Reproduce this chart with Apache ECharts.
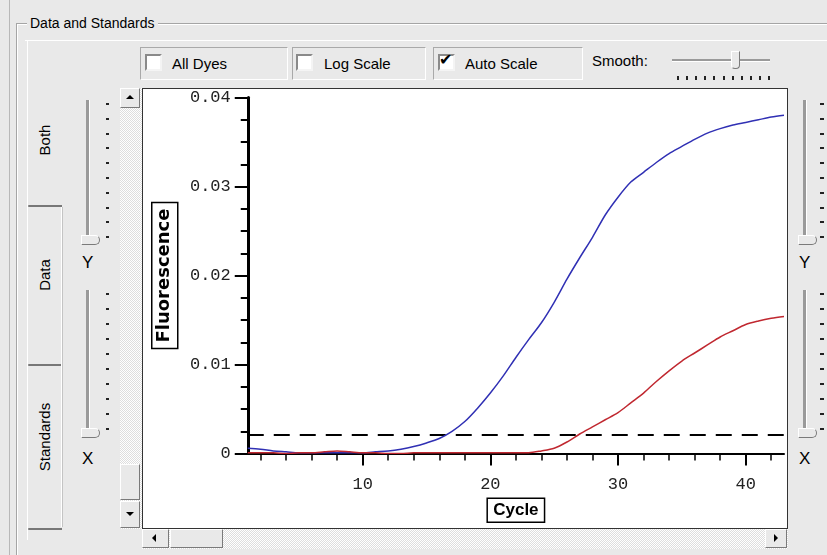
<!DOCTYPE html>
<html>
<head>
<meta charset="utf-8">
<script src="https://cdn.jsdelivr.net/npm/echarts@6/dist/echarts.min.js"></script>
<style>
  body {
    margin: 0;
    width: 827px;
    height: 555px;
    background: #e9e9e9;
    font-family: "Liberation Sans", Arial, sans-serif;
    font-size: 14px;
    color: #000;
    overflow: hidden;
    position: relative;
  }
  .abs { position: absolute; box-sizing: border-box; }
  .raised {
    background: #e9e9e9;
    border: 1px solid;
    border-color: #ffffff #7a7a7a #7a7a7a #ffffff;
  }
  .track {
    background-color: #f2f2f2;
    background-image: repeating-conic-gradient(#ffffff 0 25%, #dedede 0 50%);
    background-size: 2px 2px;
  }
  .etched {
    border: 1px solid;
    border-color: #a9a9a9 #ffffff #ffffff #a9a9a9;
  }
  .check {
    width: 17px; height: 17px;
    background: #fff;
    border: 2px solid;
    border-color: #8a8a8a #f4f4f4 #f4f4f4 #8a8a8a;
  }
  .vtext { transform: rotate(-90deg); white-space: nowrap; transform-origin: center center; }
  .groove { background: #9a9a9a; border-right: 1px solid #fff; }
  .tick { background: #222; }
  #plotbox {
    left: 142px; top: 88px; width: 646px; height: 441px;
    border: 1px solid #333; background: #fff;
  }
  #chart { position: absolute; left: 0; top: 0; width: 644px; height: 439px; }
</style>
</head>
<body>

<div class="abs" style="left:9px;top:0;width:1px;height:555px;background:#b8b8b8"></div>
<div class="abs" style="left:16px;top:23px;width:820px;height:540px;border-left:1px solid #a5a5a5;border-top:1px solid #a5a5a5;box-shadow:inset 1px 1px #fff"></div>
<div class="abs" style="left:27px;top:15px;padding:0 3px;background:#e9e9e9;font-size:14px">Data and Standards</div>
<div class="abs" style="left:25px;top:40px;width:802px;height:1px;background:#fff"></div>

<div class="abs" style="left:27px;top:40px;width:1px;height:500px;background:#fff"></div>
<div class="abs" style="left:28px;top:205px;width:34px;height:2px;background:#777;border-radius:2px 0 0 2px"></div>
<div class="abs" style="left:28px;top:364px;width:34px;height:2px;background:#777;border-radius:2px 0 0 2px"></div>
<div class="abs" style="left:28px;top:528px;width:34px;height:2px;background:#777;border-radius:2px 0 0 2px"></div>
<div class="abs" style="left:61px;top:207px;width:1px;height:320px;background:#fff"></div>
<div class="abs" style="left:62px;top:207px;width:1px;height:320px;background:#c4c4c4"></div>
<div class="abs vtext" style="left:15px;top:131px;width:60px;height:18px;text-align:center;font-size:15px">Both</div>
<div class="abs vtext" style="left:5px;top:266px;width:80px;height:18px;text-align:center;font-size:15px">Data</div>
<div class="abs vtext" style="left:0px;top:428px;width:90px;height:18px;text-align:center;font-size:15px">Standards</div>

<div class="abs etched" style="left:140px;top:47px;width:148px;height:33px"></div>
<div class="abs check" style="left:145px;top:54px"></div>
<div class="abs" style="left:172px;top:55px;font-size:15px">All Dyes</div>

<div class="abs etched" style="left:292px;top:47px;width:134px;height:33px"></div>
<div class="abs check" style="left:296px;top:54px"></div>
<div class="abs" style="left:324px;top:55px;font-size:15px">Log Scale</div>

<div class="abs etched" style="left:433px;top:47px;width:150px;height:33px"></div>
<div class="abs check" style="left:438px;top:54px"></div>
<div class="abs" style="left:439px;top:50px;font-size:16px;font-weight:bold;font-family:'DejaVu Sans'">&#10004;</div>
<div class="abs" style="left:465px;top:55px;font-size:15px">Auto Scale</div>

<div class="abs" style="left:592px;top:52px;font-size:15px">Smooth:</div>
<div class="abs" style="left:672px;top:59px;width:98px;height:3px;background:#9a9a9a;border-bottom:1px solid #fff"></div>
<div class="abs raised" style="left:731px;top:51px;width:9px;height:18px;border-radius:0 0 4px 4px"></div>
<div id="smoothTicks"></div>

<div class="abs groove" style="left:86px;top:100px;width:4px;height:142px"></div>
<div class="abs raised" style="left:81px;top:235px;width:19px;height:10px;border-radius:0 5px 5px 0"></div>
<div class="abs" style="left:82px;top:253px;font-size:17px">Y</div>
<div class="abs groove" style="left:86px;top:290px;width:4px;height:143px"></div>
<div class="abs raised" style="left:81px;top:428px;width:19px;height:10px;border-radius:0 5px 5px 0"></div>
<div class="abs" style="left:82px;top:449px;font-size:17px">X</div>

<div class="abs groove" style="left:803px;top:100px;width:4px;height:142px"></div>
<div class="abs raised" style="left:798px;top:235px;width:19px;height:10px;border-radius:0 5px 5px 0"></div>
<div class="abs" style="left:799px;top:253px;font-size:17px">Y</div>
<div class="abs groove" style="left:803px;top:290px;width:4px;height:143px"></div>
<div class="abs raised" style="left:798px;top:428px;width:19px;height:10px;border-radius:0 5px 5px 0"></div>
<div class="abs" style="left:799px;top:449px;font-size:17px">X</div>
<div id="sliderTicks"></div>

<div class="abs track" style="left:120px;top:88px;width:22px;height:441px"></div>
<div class="abs raised" style="left:120px;top:88px;width:20px;height:20px"></div>
<div class="abs" style="left:126px;top:95px;width:0;height:0;border-left:4px solid transparent;border-right:4px solid transparent;border-bottom:4px solid #000"></div>
<div class="abs raised" style="left:120px;top:464px;width:20px;height:36px"></div>
<div class="abs raised" style="left:120px;top:501px;width:20px;height:27px"></div>
<div class="abs" style="left:126px;top:512px;width:0;height:0;border-left:4px solid transparent;border-right:4px solid transparent;border-top:4px solid #000"></div>

<div class="abs track" style="left:142px;top:529px;width:646px;height:20px"></div>
<div class="abs raised" style="left:142px;top:529px;width:27px;height:19px"></div>
<div class="abs" style="left:152px;top:534px;width:0;height:0;border-top:4px solid transparent;border-bottom:4px solid transparent;border-right:4px solid #000"></div>
<div class="abs raised" style="left:170px;top:529px;width:53px;height:19px"></div>
<div class="abs raised" style="left:765px;top:529px;width:22px;height:19px"></div>
<div class="abs" style="left:774px;top:534px;width:0;height:0;border-top:4px solid transparent;border-bottom:4px solid transparent;border-left:4px solid #000"></div>

<div id="plotbox" class="abs"><div id="chart"></div></div>

<script>
  // 循环数与两种染料的荧光值，阈值线
  const cycles = [1, 2, 3, 4, 5, 6, 7, 8, 9, 10, 11, 12, 13, 14, 15, 16, 17, 18, 19, 20, 21,
    22, 23, 24, 25, 26, 27, 28, 29, 30, 31, 32, 33, 34, 35, 36, 37, 38, 39, 40, 41, 42, 43];
  const blueDye = [0.0006, 0.0005, 0.0003, 0.0002, 0.0001, 0.0001, 0.0001, 0.0001, 0.0001, 0.0001,
    0.0002, 0.0003, 0.0005, 0.0008, 0.0012, 0.0017, 0.0025, 0.0036, 0.0051, 0.0068, 0.0087,
    0.0108, 0.0128, 0.0147, 0.0170, 0.0196, 0.0220, 0.0243, 0.0268, 0.0288, 0.0305, 0.0316,
    0.0327, 0.0337, 0.0345, 0.0353, 0.0360, 0.0365, 0.0369, 0.0372, 0.0375, 0.0378, 0.0380];
  const redDye = [0.0001, 0.0001, 0.0001, 0.0000, 0.0001, 0.0001, 0.0002, 0.0003, 0.0002, 0.0001,
    0.0001, 0.0000, 0.0000, 0.0001, 0.0001, 0.0001, 0.0001, 0.0001, 0.0001, 0.0001, 0.0001,
    0.0001, 0.0001, 0.0003, 0.0006, 0.0013, 0.0022, 0.0030, 0.0038, 0.0046, 0.0057, 0.0068,
    0.0081, 0.0093, 0.0104, 0.0113, 0.0122, 0.0131, 0.0138, 0.0145, 0.0149, 0.0152, 0.0154];
  const threshold = 0.0021;
  const yLabelTicks = [0, 0.01, 0.02, 0.03, 0.04];
  const xLabelTicks = [10, 20, 30, 40];
  const xMinorTicks = [2, 4, 6, 8, 12, 14, 16, 18, 22, 24, 26, 28, 32, 34, 36, 38, 42];

  // 滑块刻度（界面装饰）
  function addTicks(holder, list) {
    let html = '';
    for (const t of list) {
      html += '<div class="abs tick" style="left:' + t[0] + 'px;top:' + t[1] + 'px;width:' + t[2] + 'px;height:' + t[3] + 'px"></div>';
    }
    document.getElementById(holder).innerHTML = html;
  }
  const sTicks = [];
  for (let i = 0; i < 10; i++) {
    sTicks.push([106, 103 + i * 14.8, 3, 2]);
    sTicks.push([106, 293 + i * 15, 3, 2]);
    sTicks.push([820, 103 + i * 14.8, 4, 2]);
    sTicks.push([820, 293 + i * 15, 4, 2]);
  }
  addTicks('sliderTicks', sTicks);
  const smTicks = [];
  for (let i = 0; i < 11; i++) {
    smTicks.push([677 + i * 9.1, 76, 2, 4]);
  }
  addTicks('smoothTicks', smTicks);

  const myChart = echarts.init(document.getElementById('chart'));
  const option = {
    animation: false,
    grid: { left: 104, top: 7, right: 3, bottom: 72 },
    xAxis: [
      {
        type: 'value',
        min: 1,
        max: 43,
        name: 'Cycle',
        nameLocation: 'middle',
        nameGap: 42,
        nameTextStyle: {
          fontFamily: 'Liberation Sans', fontWeight: 'bold', fontSize: 17, color: '#000',
          borderColor: '#000', borderWidth: 1.5, padding: [4, 6, 3, 6]
        },
        axisLine: { show: true, onZero: false, lineStyle: { color: '#000', width: 2 } },
        axisTick: { show: true, inside: false, length: 12, customValues: xLabelTicks, lineStyle: { color: '#000', width: 2 } },
        axisLabel: { customValues: xLabelTicks, margin: 22, fontFamily: 'Liberation Mono', fontSize: 17, color: '#222' },
        splitLine: { show: false }
      },
      {
        // 次刻度（每 2 个循环）
        type: 'value',
        min: 1,
        max: 43,
        position: 'bottom',
        axisLine: { show: false },
        axisTick: { show: true, inside: false, length: 7, customValues: xMinorTicks, lineStyle: { color: '#000', width: 1.5 } },
        axisLabel: { show: true, customValues: xMinorTicks, color: 'rgba(0,0,0,0)' },
        splitLine: { show: false }
      }
    ],
    yAxis: {
      type: 'value',
      min: 0,
      max: 0.04,
      interval: 0.01,
      name: 'Fluorescence',
      nameLocation: 'middle',
      nameGap: 70,
      nameTextStyle: {
        fontFamily: 'DejaVu Sans', fontWeight: 'bold', fontSize: 18, color: '#000',
        borderColor: '#000', borderWidth: 1.5, padding: [4, 6, 4, 6]
      },
      axisLine: { show: true, lineStyle: { color: '#000', width: 3 } },
      axisTick: { show: true, inside: false, length: 13, customValues: yLabelTicks, lineStyle: { color: '#000', width: 2 } },
      minorTick: { show: true, splitNumber: 4, length: 7, lineStyle: { color: '#000', width: 2 } },
      axisLabel: {
        margin: 17,
        fontFamily: 'Liberation Mono',
        fontSize: 17,
        color: '#222',
        formatter: function (v) { return v === 0 ? '0' : v.toFixed(2); }
      },
      splitLine: { show: false }
    },
    series: [
      {
        name: 'threshold',
        type: 'line',
        data: [[cycles[0], threshold], [cycles[cycles.length - 1], threshold]],
        showSymbol: false,
        silent: true,
        lineStyle: { color: '#000', type: [16, 10], width: 2 }
      },
      {
        name: 'blue',
        type: 'line',
        data: cycles.map((c, i) => [c, blueDye[i]]),
        showSymbol: false,
        smooth: 0.3,
        lineStyle: { color: '#3030b4', width: 1.5 }
      },
      {
        name: 'red',
        type: 'line',
        data: cycles.map((c, i) => [c, redDye[i]]),
        showSymbol: false,
        smooth: 0.3,
        lineStyle: { color: '#c02830', width: 1.5 }
      }
    ]
  };
  myChart.setOption(option);
</script>
</body>
</html>
